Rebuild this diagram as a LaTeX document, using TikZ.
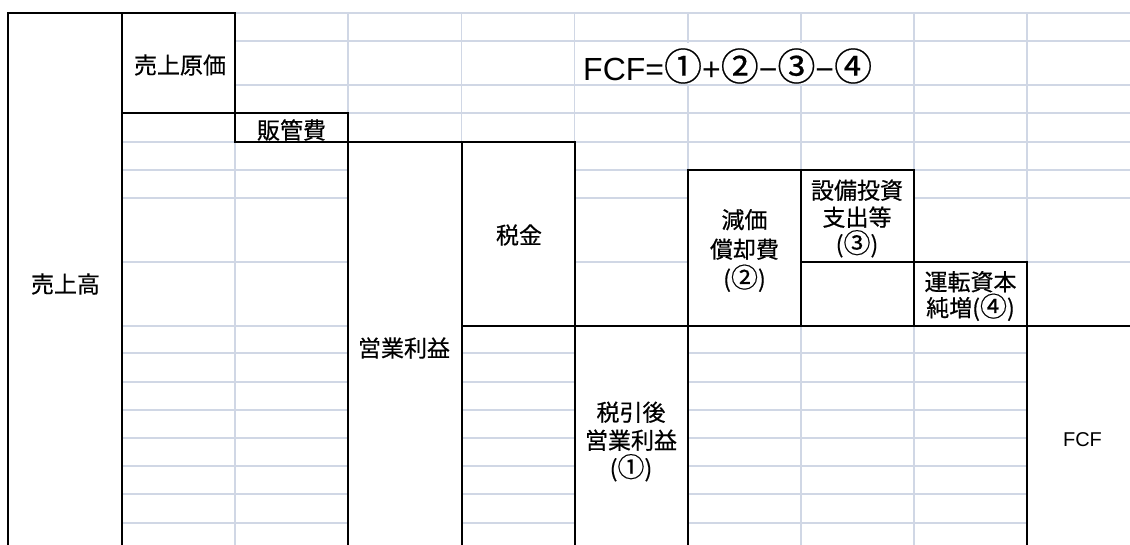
\documentclass[tikz,border=0pt]{standalone}
\usepackage{fontspec}
\newfontfamily\jp[FakeBold=0.5]{Noto Sans CJK JP}
\newfontfamily\ar{Liberation Sans}
\definecolor{gridc}{RGB}{208,215,229}
\newcommand{\cnum}[1]{{\fontsize{27}{28}\selectfont #1}}
\newcommand{\bnum}[1]{{\jp\fontsize{38}{38}\selectfont #1}}
\tikzset{
  gridline/.style={draw=gridc, line width=1.6pt},
  border/.style={draw=black, line width=2pt, line cap=rect},
  jtext/.style={font=\jp\fontsize{23}{28}\selectfont, align=center, inner sep=0pt},
}
\begin{document}
\begin{tikzpicture}[x=1pt,y=-1pt]
\useasboundingbox (0,0) rectangle (1130,544);
\clip (0,0) rectangle (1130,544);
\fill[white] (0,0) rectangle (1130,544);
% light spreadsheet grid
\draw[gridline] (235,13) -- (1130,13);
\foreach \y in {41,85,113,142,170,198,262,326,353,382,410,438,466,494,523}
  \draw[gridline] (122,\y) -- (1130,\y);
\foreach \x in {235,348,461.5,574.5,688,801,914,1027}
  \draw[gridline] (\x,13) -- (\x,560);
% merged cells (no inner grid)
\fill[white] (8,13) rectangle (122,560);
\fill[white] (122,13) rectangle (235,113);
\fill[white] (235,113) rectangle (348,142);
\fill[white] (348,142) rectangle (461.5,560);
\fill[white] (461.5,142) rectangle (574.5,326);
\fill[white] (574.5,326) rectangle (688,560);
\fill[white] (688,170) rectangle (801,326);
\fill[white] (801,170) rectangle (914,326);
\fill[white] (914,262) rectangle (1027,326);
\fill[white] (1027,326) rectangle (1140,560);
\fill[white] (576,42.5) rectangle (912,83.5);
% black borders
\draw[border] (8,560) -- (8,13) -- (235,13);
\draw[border] (122,13) -- (122,560);
\draw[border] (235,13) -- (235,142);
\draw[border] (122,113) -- (348,113);
\draw[border] (348,113) -- (348,560);
\draw[border] (235,142) -- (574.5,142);
\draw[border] (461.5,142) -- (461.5,560);
\draw[border] (574.5,142) -- (574.5,560);
\draw[border] (461.5,326) -- (1140,326);
\draw[border] (688,170) -- (688,560);
\draw[border] (688,170) -- (914,170);
\draw[border] (801,170) -- (801,326);
\draw[border] (914,170) -- (914,326);
\draw[border] (801,262) -- (1027,262);
\draw[border] (1027,262) -- (1027,560);
% labels
\node[jtext] (sales) at (65.5,284) {売上高};
\node[jtext] (cogs) at (180,65) {売上原価};
\node[jtext] (sga) at (291.5,130) {販管費};
\node[jtext] (op) at (404,348) {営業利益};
\node[jtext] (tax) at (519,235) {税金};
\node[jtext, font=\jp\fontsize{23}{29.5}\selectfont] (dep) at (744.5,250.5) {減価\\償却費\\(\cnum{②})};
\node[jtext, font=\jp\fontsize{23}{27}\selectfont] (capex) at (857,218.5) {設備投資\\支出等\\(\cnum{③})};
\node[jtext, font=\jp\fontsize{23}{26}\selectfont] (wc) at (970.5,296) {運転資本\\純増(\cnum{④})};
\node[jtext] (nopat) at (631,441.5) {税引後\\営業利益\\(\cnum{①})};
\node[font=\ar\fontsize{20}{24}\selectfont, inner sep=0pt] (fcf) at (1082.5,440) {FCF};
\node[font=\ar\fontsize{32}{38}\selectfont, inner sep=0pt, anchor=west] (formula) at (583,66)
  {FCF=\bnum{①}+\bnum{②}−\bnum{③}−\bnum{④}};
\end{tikzpicture}
\end{document}
